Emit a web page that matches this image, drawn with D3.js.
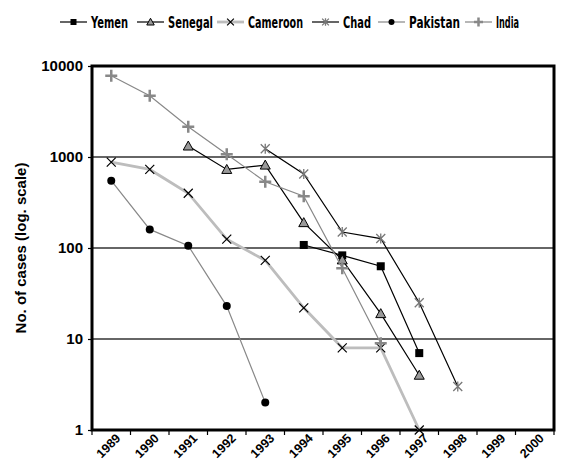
<!DOCTYPE html>
<html>
<head>
<meta charset="utf-8">
<script src="https://cdn.jsdelivr.net/npm/d3@7"></script>
<style>
  body { margin: 0; background: #fff; }
  svg { display: block; }
  .tick-lbl { font-family: "Liberation Sans", Arial, sans-serif; font-weight: bold; font-size: 14px; fill: #000; }
  .legend-lbl { font-family: "DejaVu Sans Condensed", "Liberation Sans Narrow", "Liberation Sans", Arial, sans-serif; font-stretch: condensed; font-weight: bold; font-size: 15.5px; fill: #000; }
</style>
</head>
<body>
<div id="chart"></div>
<script>
const years = ['1989', '1990', '1991', '1992', '1993', '1994', '1995', '1996', '1997', '1998', '1999', '2000'];
const yTicks = [1, 10, 100, 1000, 10000];

// values, null = no point
const yemen    = [null, null, null, null, null, 108, 83, 63, 7, null, null, null];
const senegal  = [null, null, 1320, 730, 815, 190, 74, 19, 4, null, null, null];
const cameroon = [880, 730, 400, 125, 73, 22, 8, 8, 1, null, null, null];
const chad     = [null, null, null, null, 1230, 650, 150, 127, 25, 3, null, null];
const pakistan = [550, 160, 106, 23, 2, null, null, null, null, null, null, null];
const india    = [7800, 4700, 2150, 1070, 535, 370, 60, 9, null, null, null, null];

const series = [
  { name: 'Yemen', values: yemen, line: '#000', lw: 1.2, marker: 'square' },
  { name: 'Senegal', values: senegal, line: '#000', lw: 1.2, marker: 'triangle' },
  { name: 'Cameroon', values: cameroon, line: '#bdbdbd', lw: 2.8, marker: 'x' },
  { name: 'Chad', values: chad, line: '#000', lw: 1.2, marker: 'star' },
  { name: 'Pakistan', values: pakistan, line: '#888', lw: 1.2, marker: 'circle' },
  { name: 'India', values: india, line: '#888', lw: 1.2, marker: 'plus' }
];

const w = 584, h = 461;
const margin = { left: 92, right: 30, top: 66, bottom: 31 };

const svg = d3.select('#chart').append('svg').attr('width', w).attr('height', h);

const x = d3.scaleBand().domain(years).range([margin.left, w - margin.right]);
const y = d3.scaleLog().domain([1, 10000]).range([h - margin.bottom, margin.top]);

// grid lines
svg.selectAll('.grid')
  .data(yTicks.slice(1, -1))
  .enter().append('line')
  .attr('x1', margin.left).attr('x2', w - margin.right)
  .attr('y1', d => y(d)).attr('y2', d => y(d))
  .attr('stroke', '#333').attr('stroke-width', 1.5);

// y axis
const yAxis = svg.append('g')
  .attr('transform', `translate(${margin.left},0)`)
  .call(d3.axisLeft(y).tickValues(yTicks).tickFormat(d3.format('d')).tickSize(4).tickPadding(5));
yAxis.select('.domain').remove();
yAxis.selectAll('.tick line').attr('stroke', '#000').attr('stroke-width', 1.2);
yAxis.selectAll('.tick text').attr('class', 'tick-lbl').style('font-size', '15px');

// x axis, ticks between categories
const xAxis = svg.append('g').attr('transform', `translate(0,${h - margin.bottom})`);
const edges = years.map(d => x(d)).concat([x.range()[1]]);
xAxis.selectAll('line')
  .data(edges)
  .enter().append('line')
  .attr('x1', d => d).attr('x2', d => d)
  .attr('y1', 0).attr('y2', 5)
  .attr('stroke', '#000').attr('stroke-width', 1.2);
xAxis.selectAll('text')
  .data(years)
  .enter().append('text')
  .attr('class', 'tick-lbl')
  .style('font-size', '12.5px')
  .attr('text-anchor', 'end')
  .attr('transform', d => `translate(${x(d) + x.bandwidth() / 2 + 10},9) rotate(-45)`)
  .text(d => d);

// frame
svg.append('rect')
  .attr('x', margin.left).attr('y', margin.top)
  .attr('width', w - margin.left - margin.right)
  .attr('height', h - margin.top - margin.bottom)
  .attr('fill', 'none').attr('stroke', '#000').attr('stroke-width', 3);

svg.append('text')
  .attr('class', 'tick-lbl')
  .style('font-size', '15px')
  .attr('text-anchor', 'middle')
  .attr('transform', `translate(26,${(margin.top + h - margin.bottom) / 2}) rotate(-90)`)
  .text('No. of cases (log. scale)');

const cx = i => x(years[i]) + x.bandwidth() / 2;

const drawMarker = (g, type, px, py, k = 1) => {
  if (type === 'square') {
    g.append('rect').attr('x', px - 4 * k).attr('y', py - 4 * k).attr('width', 8 * k).attr('height', 8 * k).attr('fill', '#000');
  } else if (type === 'triangle') {
    g.append('path').attr('d', `M${px},${py - 5 * k}L${px + 5 * k},${py + 4 * k}L${px - 5 * k},${py + 4 * k}Z`)
      .attr('fill', '#999').attr('stroke', '#000').attr('stroke-width', 1);
  } else if (type === 'x') {
    g.append('path').attr('d', `M${px - 4.5 * k},${py - 4.5 * k}L${px + 4.5 * k},${py + 4.5 * k}M${px + 4.5 * k},${py - 4.5 * k}L${px - 4.5 * k},${py + 4.5 * k}`)
      .attr('stroke', '#000').attr('stroke-width', 1.2);
  } else if (type === 'star') {
    g.append('path').attr('d', `M${px - 4.5 * k},${py - 4.5 * k}L${px + 4.5 * k},${py + 4.5 * k}M${px + 4.5 * k},${py - 4.5 * k}L${px - 4.5 * k},${py + 4.5 * k}M${px},${py - 5 * k}L${px},${py + 5 * k}`)
      .attr('stroke', '#777').attr('stroke-width', 1.3);
  } else if (type === 'circle') {
    g.append('circle').attr('cx', px).attr('cy', py).attr('r', 4 * k).attr('fill', '#000');
  } else if (type === 'plus') {
    g.append('path').attr('d', `M${px - 6 * k},${py}L${px + 6 * k},${py}M${px},${py - 6 * k}L${px},${py + 6 * k}`)
      .attr('stroke', '#888').attr('stroke-width', 2.5);
  }
};

series.forEach(s => {
  const pts = s.values.map((v, i) => ({ v, i })).filter(p => p.v != null);
  const line = d3.line().x(p => cx(p.i)).y(p => y(p.v));
  svg.append('path').datum(pts)
    .attr('d', line).attr('fill', 'none')
    .attr('stroke', s.line).attr('stroke-width', s.lw);
  const g = svg.append('g');
  pts.forEach(p => drawMarker(g, s.marker, cx(p.i), y(p.v)));
});

// legend
const legendX = [60, 137, 217, 312, 378, 465];
const legendW = [37, 45, 55, 28, 51, 23];
const legendY = 22;
series.forEach((s, i) => {
  const g = svg.append('g');
  g.append('line').attr('x1', legendX[i]).attr('x2', legendX[i] + 27)
    .attr('y1', legendY).attr('y2', legendY)
    .attr('stroke', s.line).attr('stroke-width', s.lw);
  drawMarker(g, s.marker, legendX[i] + 13.5, legendY, 0.75);
  g.append('text').attr('class', 'legend-lbl')
    .attr('x', legendX[i] + 31).attr('y', legendY + 5.5)
    .attr('textLength', legendW[i]).attr('lengthAdjust', 'spacingAndGlyphs')
    .text(s.name);
});
</script>
</body>
</html>
